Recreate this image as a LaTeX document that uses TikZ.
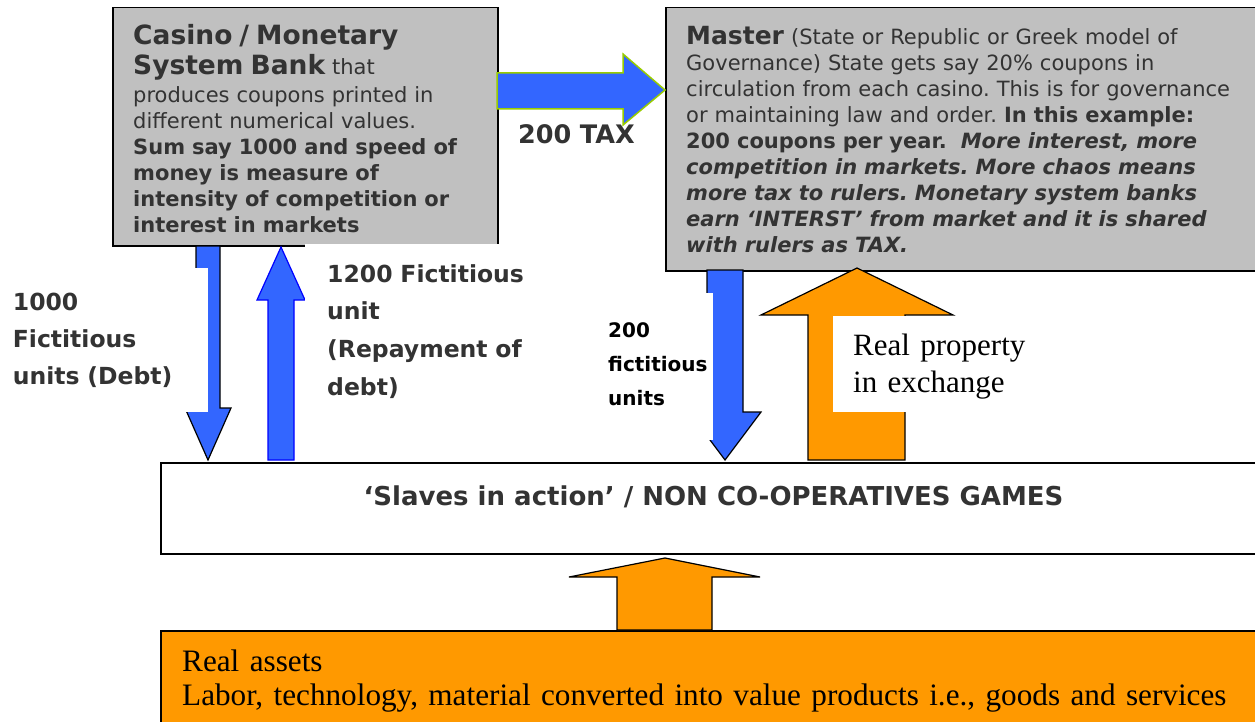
\documentclass[tikz,border=0pt]{standalone}
\usepackage{fontspec}
\setmainfont{Liberation Serif}
\newfontfamily\dvs{DejaVu Sans}
\definecolor{boxgrey}{HTML}{C0C0C0}
\definecolor{arrowblue}{HTML}{3366FF}
\definecolor{arroworange}{HTML}{FF9900}
\definecolor{taxgreen}{HTML}{99CC00}
\definecolor{textgrey}{HTML}{333333}
\frenchspacing
\tikzset{
  boxline/.style={draw=black, line width=1.5pt},
  greybox/.style={boxline, fill=boxgrey, anchor=north west, inner sep=0pt},
  whitebox/.style={boxline, fill=white, anchor=north west, inner sep=0pt},
  orangebox/.style={boxline, fill=arroworange, anchor=north west, inner sep=0pt},
  bluearrow/.style={fill=arrowblue, draw=black, line width=1.2pt, line join=miter},
  bluearrowb/.style={fill=arrowblue, draw=blue, line width=1.2pt, line join=miter},
  taxarrow/.style={fill=arrowblue, draw=taxgreen, line width=1.5pt, line join=miter},
  orangearrow/.style={fill=arroworange, draw=black, line width=1.2pt, line join=miter},
  txt/.style={inner sep=0pt, anchor=base west, text width=1100pt, align=left, text=textgrey},
  lbl/.style={txt, font=\dvs\bfseries\fontsize{23.5}{37}\selectfont},
}
\begin{document}
\begin{tikzpicture}[x=1pt,y=-1pt]
\useasboundingbox (0,0) rectangle (1255,722);
\fill[white] (0,0) rectangle (1255,722);
% boxes
\node[greybox, minimum width=385pt, minimum height=238pt] (casino) at (112,7) {};
\node[greybox, minimum width=600pt, minimum height=263pt] (master) at (665,7) {};
\node[whitebox, minimum width=1110pt, minimum height=91pt] (slaves) at (160,462) {};
\node[orangebox, minimum width=1110pt, minimum height=100pt] (assets) at (160,630) {};
% arrows
\draw[taxarrow] (497,73) -- (623,73) -- (623,54) -- (665,90) -- (623,125) -- (623,109) -- (497,109) -- cycle;
\draw[bluearrow] (196,246) -- (220,246) -- (220,408) -- (231,408) -- (208,460) -- (185,408) -- (196,408) -- cycle;
\draw[bluearrowb] (268,460) -- (294,460) -- (294,300) -- (305,300) -- (281,247) -- (257,300) -- (268,300) -- cycle;
\draw[bluearrow] (707,270) -- (743,270) -- (743,412) -- (761,412) -- (725,460) -- (689,412) -- (707,412) -- cycle;
\draw[orangearrow] (808,460) -- (905,460) -- (905,315) -- (953,315) -- (857,268) -- (761,315) -- (808,315) -- cycle;
\draw[orangearrow] (617,630) -- (712,630) -- (712,577) -- (760,577) -- (665,558) -- (569,577) -- (617,577) -- cycle;
% label backgrounds
\fill[white] (0,268) rectangle (208,412);
\fill[white] (305,244) rectangle (545,410);
\fill[white] (585,293) rectangle (713,440);
\fill[white] (833,316) rectangle (1035,412);
% texts
\node[txt, font=\dvs\fontsize{21}{26}\selectfont] (casinotext) at (133,45)
 {{\fontsize{26.5}{26}\selectfont\bfseries Casino / Monetary}\\[4pt]
  {\fontsize{26.5}{26}\selectfont\bfseries System Bank} that\\[2pt]
  produces coupons printed in\\
  different numerical values.\\
  \textbf{Sum say 1000 and speed of}\\
  \textbf{money is measure of}\\
  \textbf{intensity of competition or}\\
  \textbf{interest in markets}};
\node[txt, font=\dvs\fontsize{21}{26}\selectfont] (mastertext) at (686,45)
 {{\fontsize{25}{26}\selectfont\bfseries Master} (State or Republic or Greek model of\\
  Governance) State gets say 20\% coupons in\\
  circulation from each casino. This is for governance\\
  or maintaining law and order. \textbf{In this example:}\\
  \textbf{200 coupons per year.}\ \ {\bfseries\itshape More interest, more}\\
  {\bfseries\itshape competition in markets. More chaos means}\\
  {\bfseries\itshape more tax to rulers. Monetary system banks}\\
  {\bfseries\itshape earn ‘INTERST’ from market and it is shared}\\
  {\bfseries\itshape with rulers as TAX.}};
\node[txt, font=\dvs\bfseries\fontsize{25.5}{30}\selectfont] (taxlabel) at (518,144) {200 TAX};
\node[lbl] (debtlabel) at (12.7,310) {1000\\ Fictitious\\ units (Debt)};
\node[lbl, font=\dvs\bfseries\fontsize{23.5}{37.7}\selectfont] (repaylabel) at (327,282) {1200 Fictitious\\ unit\\ (Repayment of\\ debt)};
\node[txt, text=black, font=\dvs\bfseries\fontsize{20}{34}\selectfont] (taxunits) at (608,337) {200\\ fictitious\\ units};
\node[txt, text=black, font=\fontsize{31}{37}\selectfont] (proplabel) at (853,355) {Real property\\ in exchange};
\node[inner sep=0pt, anchor=base, text=textgrey, font=\dvs\bfseries\fontsize{26}{30}\selectfont] (slavestext) at (713.5,505) {‘Slaves in action’ / NON CO-OPERATIVES GAMES};
\node[txt, text=black, font=\fontsize{31.2}{34}\selectfont] (assetstext) at (182,671) {Real assets\\ Labor, technology, material converted into value products i.e., goods and services};
\end{tikzpicture}
\end{document}
